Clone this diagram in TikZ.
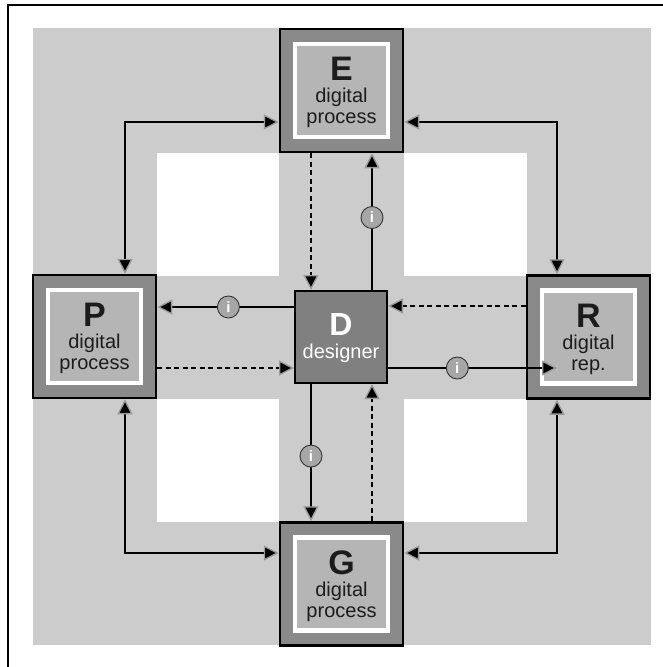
\documentclass[tikz,border=0pt]{standalone}
\usepackage{fontspec}
\setmainfont{Liberation Sans}
\usetikzlibrary{arrows.meta}

\definecolor{bgGrey}{HTML}{CCCCCC}
\definecolor{rimGrey}{HTML}{8A8A8A}
\definecolor{coreGrey}{HTML}{B5B5B5}
\definecolor{designerGrey}{HTML}{808080}
\definecolor{infoGrey}{HTML}{A6A6A6}
\definecolor{haloGrey}{HTML}{9A9A9A}
\definecolor{inkGrey}{HTML}{1C1C1C}

\begin{document}
\begin{tikzpicture}[x=1pt,y=-1pt,
  >={Triangle[length=15pt,width=15pt,fill=black,color=haloGrey,line width=1.3pt]},
  procbox/.style={draw=black,line width=2.5pt,fill=rimGrey,minimum size=123pt,inner sep=0pt},
  proccore/.style={draw=white,line width=4.5pt,fill=coreGrey,minimum size=93pt,inner sep=0pt},
  designerbox/.style={draw=black,line width=2pt,fill=designerGrey,minimum size=92pt,inner sep=0pt},
  head/.style={anchor=base,inner sep=0pt,text=inkGrey,font=\fontsize{34}{34}\selectfont\bfseries},
  sub/.style={anchor=base,inner sep=0pt,text=inkGrey,font=\fontsize{20}{20}\selectfont},
  conn/.style={draw=black,line width=1.6pt},
  dashconn/.style={conn,dash pattern=on 5pt off 3.5pt},
  info/.style={circle,draw=black!80,line width=0.9pt,fill=infoGrey,minimum size=22pt,inner sep=0pt,
    text=white,font=\fontsize{15}{15}\selectfont\bfseries}]

\useasboundingbox (0,0) rectangle (663,667);

% page frame
\draw[line width=1.2pt] (8,667) -- (8,5) -- (663,5);

% grey field with the four white corner squares
\fill[bgGrey] (33,28) rectangle (651,645);
\fill[white] (157,153) rectangle (279,276);
\fill[white] (404,153) rectangle (527,276);
\fill[white] (157,399) rectangle (279,522);
\fill[white] (404,399) rectangle (527,522);

% process boxes
\node[procbox] (E) at (341.5,90.5) {};
\node[proccore] (Ec) at (E.center) {};
\node[procbox] (P) at (94.5,336.5) {};
\node[proccore] (Pc) at (P.center) {};
\node[procbox] (R) at (588.5,337) {};
\node[proccore] (Rc) at (R.center) {};
\node[procbox] (G) at (341.5,584) {};
\node[proccore] (Gc) at (G.center) {};
\node[designerbox] (D) at (341,337) {};

% box texts
\node[head] (Eh) at ([yshift=10pt]E.center) {E};
\node[sub] (Es1) at ([yshift=-12pt]E.center) {digital};
\node[sub] (Es2) at ([yshift=-33pt]E.center) {process};
\node[head] (Ph) at ([yshift=10pt]P.center) {P};
\node[sub] (Ps1) at ([yshift=-12pt]P.center) {digital};
\node[sub] (Ps2) at ([yshift=-33pt]P.center) {process};
\node[head] (Rh) at ([yshift=10pt]R.center) {R};
\node[sub] (Rs1) at ([yshift=-12pt]R.center) {digital};
\node[sub] (Rs2) at ([yshift=-33pt]R.center) {rep.};
\node[head] (Gh) at ([yshift=10pt]G.center) {G};
\node[sub] (Gs1) at ([yshift=-12pt]G.center) {digital};
\node[sub] (Gs2) at ([yshift=-33pt]G.center) {process};
\node[head,text=white,font=\fontsize{32}{32}\selectfont\bfseries] (Dh) at ([yshift=2pt]D.center) {D};
\node[sub,text=white] (Ds) at ([yshift=-21pt]D.center) {designer};

% outer ring of two-way links
\draw[conn,<->] ([xshift=30.5pt]P.north) |- ([yshift=-31.5pt]E.west);
\draw[conn,<->] ([yshift=-31.5pt]E.east) -| ([xshift=-31.5pt]R.north);
\draw[conn,<->] ([xshift=30.5pt]P.south) |- ([yshift=31pt]G.west);
\draw[conn,<->] ([xshift=-31.5pt]R.south) |- ([yshift=31pt]G.east);

% designer to processes (information flow)
\draw[conn,->] ([xshift=31pt]D.north) -- node[info,pos=0.53] (iE) {i} ([xshift=30.5pt]E.south);
\draw[conn,->] ([yshift=30pt]D.west) -- node[info,pos=0.48] (iP) {i} ([yshift=29.5pt]P.east);
\draw[conn,->] ([yshift=-31pt]D.east) -- node[info,pos=0.41] (iR) {i} ([xshift=-31.5pt,yshift=-31pt]R.center);
\draw[conn,->] ([xshift=-30pt]D.south) -- node[info,pos=0.525] (iG) {i} ([xshift=-30.5pt]G.north);

% processes back to designer
\draw[dashconn,->] ([xshift=-30.5pt]E.south) -- ([xshift=-30pt]D.north);
\draw[dashconn,->] ([yshift=-31.5pt]P.east) -- ([yshift=-31pt]D.west);
\draw[dashconn,->] ([yshift=31pt]R.west) -- ([yshift=31pt]D.east);
\draw[dashconn,->] ([xshift=30.5pt]G.north) -- ([xshift=31pt]D.south);
\end{tikzpicture}
\end{document}
